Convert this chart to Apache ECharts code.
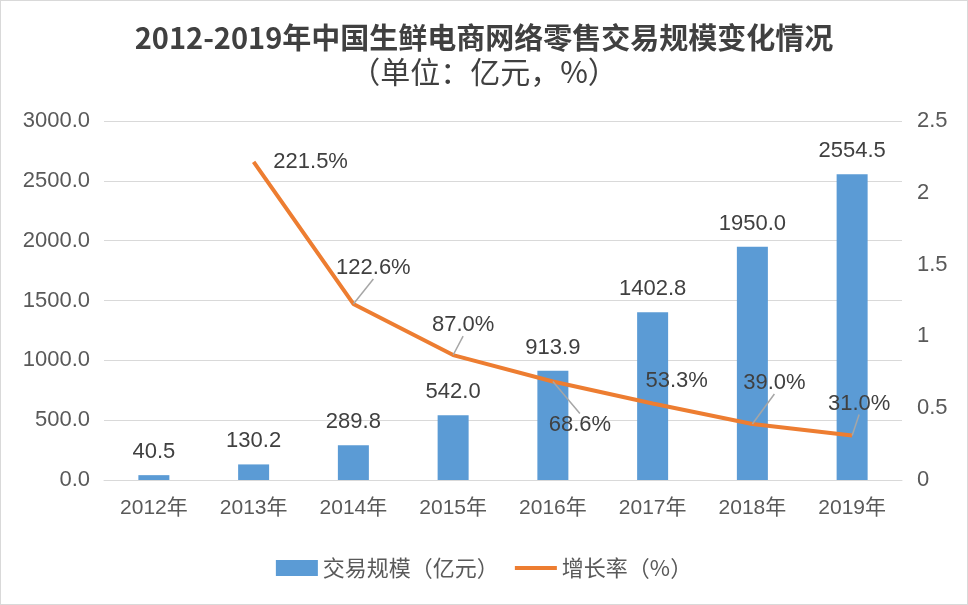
<!DOCTYPE html>
<html><head><meta charset="utf-8">
<script src="https://cdn.jsdelivr.net/npm/echarts@6/dist/echarts.min.js"></script>
<style>html,body{margin:0;padding:0;background:#fff}#c{width:968px;height:605px;box-sizing:border-box;border:1px solid #d9d9d9}</style>
</head><body><div id="c"></div>
<script>
const categories = ['2012年','2013年','2014年','2015年','2016年','2017年','2018年','2019年'];
const scaleValues = [40.5, 130.2, 289.8, 542.0, 913.9, 1402.8, 1950.0, 2554.5];
const growthRates = [null, 2.215, 1.226, 0.870, 0.686, 0.533, 0.390, 0.310];
const growthLabels = ['', '221.5%', '122.6%', '87.0%', '68.6%', '53.3%', '39.0%', '31.0%'];
const barName = '交易规模（亿元）';
const lineName = '增长率（%）';
// label offsets for growth labels (px) and whether a leader line shows
const labelOffsets = [[0,0],[57,0],[20,-36],[10,-30],[27,43],[24,-23],[22,-41],[7,-32]];
const leaderShown = [false, false, true, true, true, false, true, true];

const fontLatin = '"Liberation Sans","Noto Sans CJK SC",sans-serif';
const lineData = growthRates.map((v,i)=>({value:v, labelLine:{show:leaderShown[i]}}));
const chart = echarts.init(document.getElementById('c'), null, {renderer:'canvas'});
chart.setOption({
  animation:false,
  title:{
    text:'2012-2019年中国生鲜电商网络零售交易规模变化情况',
    subtext:'（单位：亿元，%）',
    left:'center', top:17, itemGap:5,
    textStyle:{fontSize:29, fontWeight:'bold', color:'#404040', fontFamily:'"Noto Sans CJK SC",sans-serif'},
    subtextStyle:{fontSize:30, color:'#404040', fontFamily:'"Noto Sans CJK SC",sans-serif'}
  },
  legend:{
    bottom:20, left:'center', itemGap:16,
    itemWidth:42, itemHeight:16,
    textStyle:{fontSize:22, color:'#595959', fontFamily:'"Noto Sans CJK SC",sans-serif'},
    data:[{name:barName, icon:'rect', itemStyle:{color:'#5b9bd5'}},
          {name:lineName, icon:'path://M0,6 L40,6 L40,10 L0,10 Z', itemStyle:{color:'#ed7d31'}}]
  },
  grid:{left:103, right:65, top:120, bottom:124},
  xAxis:{
    type:'category', data:categories,
    axisLine:{lineStyle:{color:'#d9d9d9', width:1}},
    axisTick:{show:false},
    axisLabel:{fontSize:21, color:'#595959', margin:18, fontFamily:fontLatin}
  },
  yAxis:[{
    type:'value', min:0, max:3000, interval:500,
    axisLabel:{fontSize:22, color:'#595959', margin:14, formatter:v=>v.toFixed(1), fontFamily:fontLatin},
    splitLine:{lineStyle:{color:'#d9d9d9', width:1}},
    axisLine:{show:false}, axisTick:{show:false}
  },{
    type:'value', min:0, max:2.5, interval:0.5,
    axisLabel:{fontSize:22, color:'#595959', margin:15, formatter:v=>String(v), fontFamily:fontLatin},
    splitLine:{show:false}, axisLine:{show:false}, axisTick:{show:false}
  }],
  series:[{
    name:barName, type:'bar', data:scaleValues, barWidth:31,
    itemStyle:{color:'#5b9bd5'},
    label:{show:true, position:'top', distance:12, fontSize:22, color:'#404040',
      formatter:p=>p.value.toFixed(1), fontFamily:fontLatin}
  },{
    name:lineName, type:'line', yAxisIndex:1, data:lineData,
    symbol:'circle', symbolSize:0.1, showSymbol:true,
    lineStyle:{color:'#ed7d31', width:4}, itemStyle:{color:'#ed7d31'},
    label:{show:true, position:'inside', fontSize:22, color:'#404040', fontFamily:fontLatin,
      formatter:p=>growthLabels[p.dataIndex]},
    labelLine:{show:true, lineStyle:{color:'#a6a6a6', width:1.5}},
    labelLayout:function(p){
      const o = labelOffsets[p.dataIndex] || [0,0];
      return {dx:o[0], dy:o[1]};
    },
    z:3
  }]
});
</script></body></html>
